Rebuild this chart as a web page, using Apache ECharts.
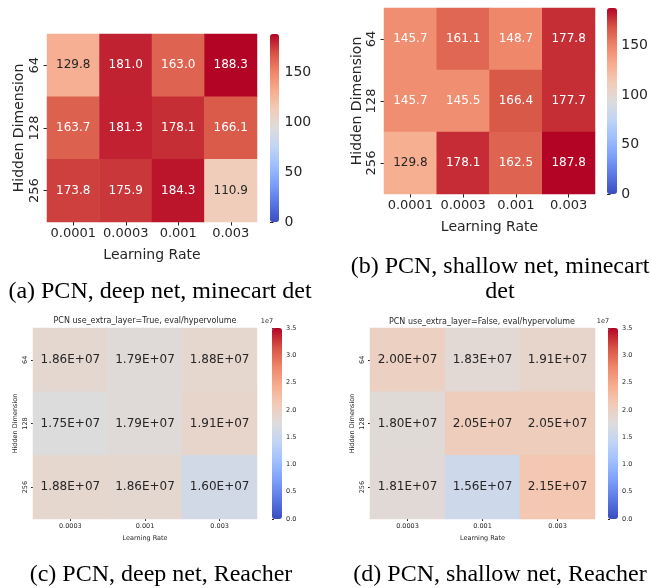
<!DOCTYPE html>
<html><head><meta charset="utf-8">
<script src="https://cdn.jsdelivr.net/npm/echarts@6/dist/echarts.min.js"></script>
<style>html,body{margin:0;padding:0;background:#fff}#c{width:651px;height:588px}</style>
</head><body><div id="c"></div>
<script>
// ---- data ----
var hiddenDims = ['64', '128', '256'];
var lrMinecart = ['0.0001', '0.0003', '0.001', '0.003'];
var lrReacher = ['0.0003', '0.001', '0.003'];
var valsA = [[129.8, 181.0, 163.0, 188.3], [163.7, 181.3, 178.1, 166.1], [173.8, 175.9, 184.3, 110.9]];
var valsB = [[145.7, 161.1, 148.7, 177.8], [145.7, 145.5, 166.4, 177.7], [129.8, 178.1, 162.5, 187.8]];
var valsC = [[1.86e7, 1.79e7, 1.88e7], [1.75e7, 1.79e7, 1.91e7], [1.88e7, 1.86e7, 1.60e7]];
var valsD = [[2.00e7, 1.83e7, 1.91e7], [1.80e7, 2.05e7, 2.05e7], [1.81e7, 1.56e7, 2.15e7]];
var cbarMaxA = 188.3, cbarMaxB = 187.8, cbarMaxReacher = 3.5e7;
var titleC = 'PCN use_extra_layer=True, eval/hypervolume';
var titleD = 'PCN use_extra_layer=False, eval/hypervolume';
var captions = ['(a) PCN, deep net, minecart det', '(b) PCN, shallow net, minecart', 'det',
                '(c) PCN, deep net, Reacher', '(d) PCN, shallow net, Reacher'];

// ---- style helpers ----
var coolwarm = ['#3b4cc0', '#5977e3', '#7b9ff9', '#9ebeff', '#c0d4f5', '#dddcdc', '#f2cbb7', '#f7ac8e', '#ee8468', '#d65244', '#b40426'];
function hex2rgb(h) { return [parseInt(h.substr(1, 2), 16), parseInt(h.substr(3, 2), 16), parseInt(h.substr(5, 2), 16)]; }
function cmap(t) {
  t = Math.max(0, Math.min(1, t)) * (coolwarm.length - 1);
  var i = Math.min(Math.floor(t), coolwarm.length - 2), f = t - i;
  var a = hex2rgb(coolwarm[i]), b = hex2rgb(coolwarm[i + 1]);
  return [0, 1, 2].map(function (k) { return a[k] + (b[k] - a[k]) * f; });
}
function lum(rgb) {
  var c = rgb.map(function (v) { v /= 255; return v <= 0.03928 ? v / 12.92 : Math.pow((v + 0.055) / 1.055, 2.4); });
  return 0.2126 * c[0] + 0.7152 * c[1] + 0.0722 * c[2];
}
var TXT = '#262626';
function buildData(vals, max) {
  var out = [];
  vals.forEach(function (row, r) {
    row.forEach(function (v, c) {
      var col = lum(cmap(v / max)) > 0.408 ? TXT : '#ffffff';
      out.push({ value: [c, r, v], label: { color: col } });
    });
  });
  return out;
}
function sci(v) {
  var e = Math.floor(Math.log10(v)); var m = v / Math.pow(10, e);
  return m.toFixed(2) + 'E' + (e >= 0 ? '+' : '-') + (Math.abs(e) < 10 ? '0' : '') + Math.abs(e);
}

var FONT = 'DejaVu Sans';
var panels = [
  { g: { left: 47, top: 34, width: 210, height: 188 }, cb: { left: 270, top: 34, width: 9, height: 188 },
    cats: lrMinecart, vals: valsA, max: cbarMaxA, fs: 13, nfs: 14, cfs: 12, cbfs: 14, tick: 3.5, xgap: 26, ygap: 21, fmt: function (v) { return v.toFixed(1); }, cbInt: 50, cbFmt: function (v) { return v; }, showMax: false },
  { g: { left: 384, top: 8, width: 211, height: 186 }, cb: { left: 607, top: 8, width: 10, height: 186 },
    cats: lrMinecart, vals: valsB, max: cbarMaxB, fs: 13, nfs: 14, cfs: 12, cbfs: 14, tick: 3.5, xgap: 26, ygap: 20, fmt: function (v) { return v.toFixed(1); }, cbInt: 50, cbFmt: function (v) { return v; }, showMax: false },
  { g: { left: 33, top: 328, width: 224, height: 191 }, cb: { left: 272, top: 328, width: 10, height: 191 },
    cats: lrReacher, vals: valsC, max: cbarMaxReacher, fs: 6.5, nfs: 6.5, cfs: 12, cbfs: 6.5, tick: 2, xgap: 16, ygap: 14, fmt: sci, cbInt: 5e6, cbFmt: function (v) { return (v / 1e7).toFixed(1); }, cbName: '1e7', showMax: true },
  { g: { left: 370, top: 328, width: 225, height: 191 }, cb: { left: 608, top: 328, width: 10, height: 191 },
    cats: lrReacher, vals: valsD, max: cbarMaxReacher, fs: 6.5, nfs: 6.5, cfs: 12, cbfs: 6.5, tick: 2, xgap: 16, ygap: 14, fmt: sci, cbInt: 5e6, cbFmt: function (v) { return (v / 1e7).toFixed(1); }, cbName: '1e7', showMax: true }
];

var grid = [], xAxis = [], yAxis = [], series = [], visualMap = [];
panels.forEach(function (p, i) {
  grid.push(p.g);
  grid.push(p.cb);
  var gi = 2 * i, ci = 2 * i + 1;
  xAxis.push({
    type: 'category', gridIndex: gi, data: p.cats, name: 'Learning Rate', nameLocation: 'middle', nameGap: p.xgap,
    nameTextStyle: { fontFamily: FONT, fontSize: p.nfs, color: TXT },
    axisLine: { show: false }, splitLine: { show: false },
    axisTick: { show: true, alignWithLabel: true, interval: 0, length: p.tick, lineStyle: { color: TXT } },
    axisLabel: { fontFamily: FONT, fontSize: p.fs, color: TXT, margin: p.tick + 2, interval: 0 }
  });
  yAxis.push({
    type: 'category', gridIndex: gi, data: hiddenDims, inverse: true, name: 'Hidden Dimension', nameLocation: 'middle', nameGap: p.ygap, nameRotate: 90,
    nameTextStyle: { fontFamily: FONT, fontSize: p.nfs, color: TXT },
    axisLine: { show: false }, splitLine: { show: false },
    axisTick: { show: true, alignWithLabel: true, interval: 0, length: p.tick, lineStyle: { color: TXT } },
    axisLabel: { fontFamily: FONT, fontSize: p.fs, color: TXT, rotate: 90, margin: p.tick + 2, interval: 0 }
  });
  xAxis.push({ type: 'value', gridIndex: ci, show: false, min: 0, max: 1 });
  yAxis.push({
    type: 'value', gridIndex: ci, position: 'right', min: 0, max: p.max, interval: p.cbInt,
    name: p.cbName || '', nameLocation: 'end', nameGap: 3,
    nameTextStyle: { fontFamily: FONT, fontSize: p.cbfs, color: TXT, align: 'center', padding: [0, 0, 0, -10] },
    axisLine: { show: false }, splitLine: { show: false },
    axisTick: { show: true, length: p.tick, lineStyle: { color: TXT } },
    axisLabel: { fontFamily: FONT, fontSize: p.cbfs, color: TXT, margin: p.tick + 2, formatter: p.cbFmt, showMaxLabel: p.showMax }
  });
  series.push({
    type: 'heatmap', xAxisIndex: gi, yAxisIndex: gi, data: buildData(p.vals, p.max),
    label: { show: true, fontFamily: FONT, fontSize: p.cfs, formatter: (function (f) { return function (d) { return f(d.value[2]); }; })(p.fmt) },
    itemStyle: { borderWidth: 0 }, emphasis: { disabled: true }
  });
  visualMap.push({
    type: 'continuous', seriesIndex: i, min: 0, max: p.max, calculable: false, orient: 'vertical',
    left: p.cb.left, top: p.cb.top, itemWidth: p.cb.width, itemHeight: p.cb.height, padding: 0,
    text: null, showLabel: false, hoverLink: false, inRange: { color: coolwarm }
  });
});
// colorbar grids get an empty placeholder series so their axes render
panels.forEach(function (p, i) {
  series.push({ type: 'scatter', xAxisIndex: 2 * i + 1, yAxisIndex: 2 * i + 1, data: [], silent: true });
});

var SERIF = 'Liberation Serif';
var CAP = '24px ' + SERIF;
var graphic = [
  { type: 'text', x: 145, y: 321, style: { text: titleC, font: '8px ' + FONT, fill: TXT, textAlign: 'center', textVerticalAlign: 'middle' } },
  { type: 'text', x: 482, y: 322, style: { text: titleD, font: '8px ' + FONT, fill: TXT, textAlign: 'center', textVerticalAlign: 'middle' } },
  { type: 'text', x: 160, y: 292, style: { text: captions[0], font: CAP, fill: '#000', textAlign: 'center', textVerticalAlign: 'middle' } },
  { type: 'text', x: 500, y: 267, style: { text: captions[1], font: CAP, fill: '#000', textAlign: 'center', textVerticalAlign: 'middle' } },
  { type: 'text', x: 500, y: 292, style: { text: captions[2], font: CAP, fill: '#000', textAlign: 'center', textVerticalAlign: 'middle' } },
  { type: 'text', x: 161, y: 575, style: { text: captions[3], font: CAP, fill: '#000', textAlign: 'center', textVerticalAlign: 'middle' } },
  { type: 'text', x: 500, y: 575, style: { text: captions[4], font: CAP, fill: '#000', textAlign: 'center', textVerticalAlign: 'middle' } }
];

var chart = echarts.init(document.getElementById('c'), null, { renderer: 'canvas' });
chart.setOption({
  animation: false, backgroundColor: '#fff',
  grid: grid, xAxis: xAxis, yAxis: yAxis, series: series, visualMap: visualMap, graphic: graphic
});
</script></body></html>
